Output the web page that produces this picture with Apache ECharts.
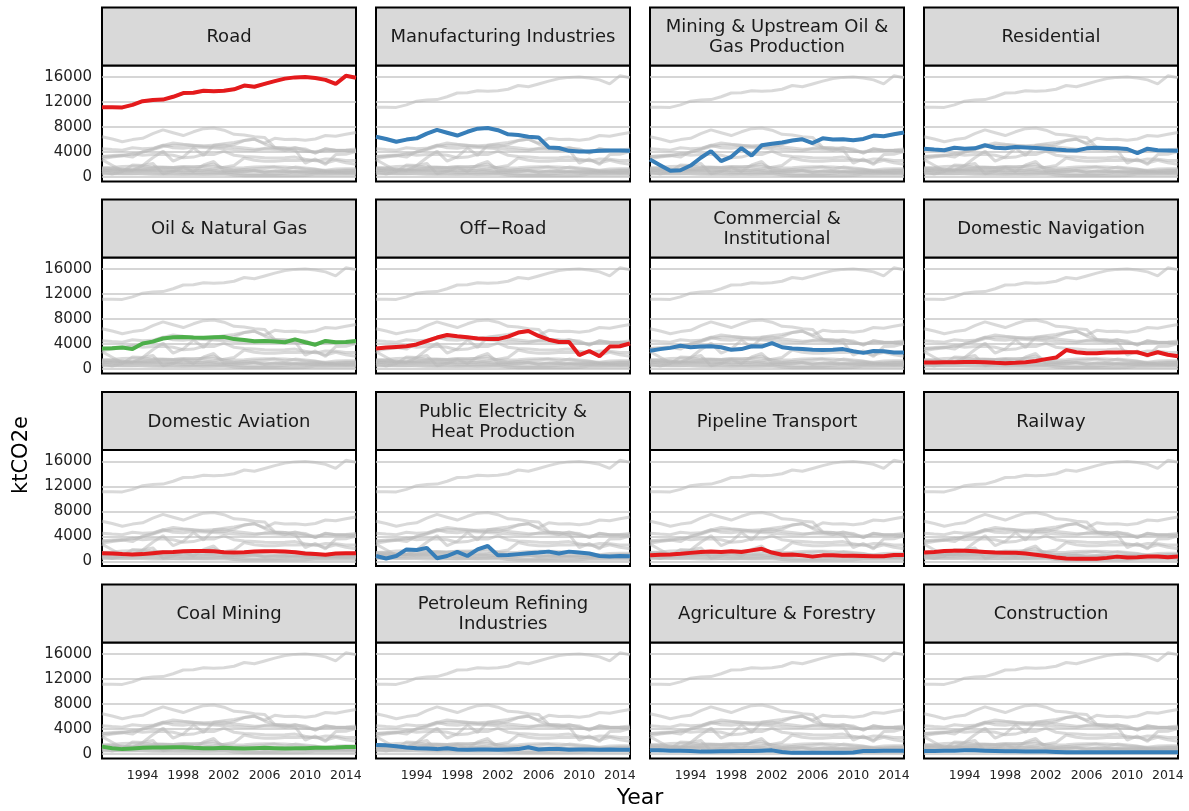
<!DOCTYPE html>
<html><head><meta charset="utf-8">
<script src="https://cdn.jsdelivr.net/npm/echarts@6/dist/echarts.min.js"></script>
<style>html,body{margin:0;padding:0;background:#fff}#c{width:1189px;height:811px}</style>
</head><body><div id="c"></div>
<script>
// ---- data ----
const years = [1990,1991,1992,1993,1994,1995,1996,1997,1998,1999,2000,2001,2002,2003,2004,2005,2006,2007,2008,2009,2010,2011,2012,2013,2014,2015];
const xTicks = [1994,1998,2002,2006,2010,2014];
const yTicks = [0,4000,8000,12000,16000];
const categories = ['Road','Manufacturing Industries','Mining & Upstream Oil &\nGas Production','Residential',
  'Oil & Natural Gas','Off\u2212Road','Commercial &\nInstitutional','Domestic Navigation',
  'Domestic Aviation','Public Electricity &\nHeat Production','Pipeline Transport','Railway',
  'Coal Mining','Petroleum Refining\nIndustries','Agriculture & Forestry','Construction'];
const groups = ['transport','stationary','stationary','stationary',
  'fugitive','transport','stationary','transport',
  'transport','stationary','transport','transport',
  'fugitive','stationary','stationary','stationary'];
const road = [11130,11130,11100,11500,12100,12300,12350,12800,13400,13450,13750,13700,13750,14000,14600,14400,14850,15300,15700,15900,15950,15800,15500,14850,16150,15850];
const manufacturing = [6400,6050,5600,5950,6150,6900,7500,7050,6600,7200,7700,7800,7450,6800,6700,6400,6300,4700,4600,4150,4050,4050,4150,4200,4200,4150];
const mining = [2750,1850,950,1050,1800,3050,4100,2500,3200,4600,3400,5050,5300,5500,5800,6000,5400,6150,5950,6000,5850,6050,6600,6500,6800,7100];
const residential = [4500,4350,4250,4650,4500,4550,5050,4650,4550,4750,4700,4600,4500,4350,4250,4200,4550,4650,4600,4550,4450,3800,4500,4250,4200,4150];
const oilGas = [3250,3300,3400,3150,4050,4350,4850,5050,5100,5000,4950,5050,5100,4750,4600,4400,4450,4350,4250,4700,4250,3850,4450,4250,4300,4450];
const offRoad = [3250,3400,3500,3600,3900,4450,5000,5400,5200,5050,4850,4750,4750,5150,5800,6050,5250,4650,4300,4300,2200,2850,2000,3550,3600,4050];
const commercial = [2900,3150,3350,3700,3450,3550,3600,3450,3050,3150,3600,3550,4100,3450,3250,3150,3050,3000,3050,3150,2800,2550,2850,2800,2600,2600];
const domNavigation = [1000,1000,1050,1050,1100,1100,1050,950,900,950,1050,1250,1550,1800,3000,2650,2500,2500,2600,2600,2650,2650,2200,2650,2250,2000];
const domAviation = [1300,1250,1150,1100,1150,1300,1450,1500,1600,1650,1650,1600,1450,1400,1450,1550,1600,1600,1550,1450,1250,1150,1050,1250,1300,1300];
const publicElec = [850,450,850,1900,1800,2150,500,850,1500,850,1900,2450,950,1000,1150,1300,1400,1550,1250,1550,1400,1250,850,750,850,800];
const pipeline = [950,1050,1100,1200,1350,1500,1550,1500,1600,1500,1750,2000,1400,1050,1100,950,750,950,950,900,900,850,800,800,1000,1000];
const railway = [1400,1500,1650,1700,1700,1600,1500,1400,1350,1350,1250,1050,850,600,450,400,400,400,550,750,600,650,750,750,650,750];
const coalMining = [1150,900,750,850,950,1000,1000,1050,1050,950,900,900,950,900,850,900,950,900,850,900,900,950,950,1000,1100,1100];
const petroleum = [1400,1350,1200,1000,900,850,750,900,700,650,700,700,650,700,750,1050,700,750,750,650,700,700,650,700,650,650];
const agriculture = [550,550,500,500,450,350,350,400,400,450,450,500,550,300,150,150,150,150,150,150,200,450,450,500,500,500];
const construction = [450,450,500,500,550,550,500,450,400,400,350,350,350,300,250,250,250,250,250,250,250,250,250,250,250,250];
const seriesValues = [road,manufacturing,mining,residential,oilGas,offRoad,commercial,domNavigation,
  domAviation,publicElec,pipeline,railway,coalMining,petroleum,agriculture,construction];
const groupColors = {transport:'#e41a1c', stationary:'#377eb8', fugitive:'#4daf4a'};

// ---- layout ----
const FONT = 'DejaVu Sans';
const colLeft = [102, 376, 650, 924], panelW = 254;
const rowTop = [65.5, 257.5, 450, 642.5], panelH = 116, stripH = 58;

const grids = [], xAxes = [], yAxes = [], series = [], graphics = [];
categories.forEach((cat, k) => {
  const r = Math.floor(k / 4), c = k % 4;
  grids.push({left: colLeft[c], top: rowTop[r], width: panelW, height: panelH,
    show: true, borderColor: '#000', borderWidth: 2, backgroundColor: '#fff'});
  xAxes.push({gridIndex: k, type: 'value', min: 1990, max: 2015,
    axisLine: {show: false}, axisTick: {show: false, customValues: xTicks}, splitLine: {show: false},
    axisLabel: {show: r === 3, customValues: xTicks, formatter: v => String(v),
      fontSize: 12.5, color: '#222', margin: 11, fontFamily: FONT}});
  yAxes.push({gridIndex: k, type: 'value', min: -750, max: 17800,
    axisLine: {show: false}, axisTick: {show: false, customValues: yTicks},
    splitLine: {show: true, lineStyle: {color: '#c8c8c8', width: 1.5}},
    axisLabel: {show: c === 0, customValues: yTicks, formatter: v => String(v),
      fontSize: 15, color: '#222', margin: 10, fontFamily: FONT}});
  seriesValues.forEach((vals) => {
    series.push({type: 'line', xAxisIndex: k, yAxisIndex: k, symbol: 'none', silent: true, z: 2,
      data: years.map((y, i) => [y, vals[i]]),
      lineStyle: {color: 'rgba(185,185,185,0.55)', width: 3}});
  });
  series.push({type: 'line', xAxisIndex: k, yAxisIndex: k, symbol: 'none', silent: true, z: 3,
    data: years.map((y, i) => [y, seriesValues[k][i]]),
    lineStyle: {color: groupColors[groups[k]], width: 4}});
  graphics.push({type: 'rect', shape: {x: colLeft[c], y: rowTop[r] - stripH, width: panelW, height: stripH},
    style: {fill: '#d9d9d9', stroke: '#000', lineWidth: 2}});
  graphics.push({type: 'text', x: colLeft[c] + panelW / 2, y: rowTop[r] - stripH / 2 + 1,
    style: {text: cat, fill: '#1a1a1a', font: '18px "' + FONT + '"', align: 'center', verticalAlign: 'middle',
      textAlign: 'center', textVerticalAlign: 'middle', lineHeight: 20}});
});
graphics.push({type: 'text', x: 22, y: 455, rotation: Math.PI / 2,
  style: {text: 'ktCO2e', fill: '#000', font: '21px "' + FONT + '"', align: 'center', verticalAlign: 'middle',
    textAlign: 'center', textVerticalAlign: 'middle'}});
graphics.push({type: 'text', x: 640, y: 798,
  style: {text: 'Year', fill: '#000', font: '22px "' + FONT + '"', align: 'center', verticalAlign: 'middle',
    textAlign: 'center', textVerticalAlign: 'middle'}});

const chart = echarts.init(document.getElementById('c'));
chart.setOption({animation: false, backgroundColor: '#fff',
  grid: grids, xAxis: xAxes, yAxis: yAxes, series: series, graphic: graphics});
</script></body></html>
